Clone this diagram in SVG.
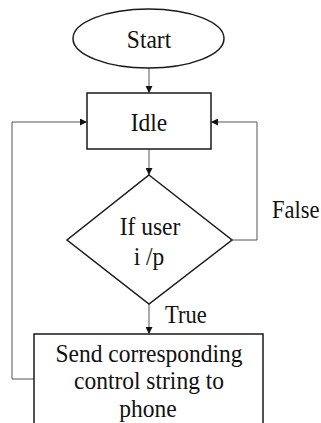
<svg xmlns="http://www.w3.org/2000/svg" width="321" height="423" viewBox="0 0 321 423">
<style>
.shape{fill:#fff;stroke:#1a1a1a;stroke-width:1.5}
.conn{fill:none;stroke:#555;stroke-width:1}
.t{font-size:23.5px;fill:#111;text-anchor:middle}
.lbl{font-size:22.5px;fill:#111}
</style>
<defs>
<marker id="ah" viewBox="0 0 10 10" refX="10" refY="5" markerWidth="7" markerHeight="7" markerUnits="userSpaceOnUse" orient="auto">
<path d="M0,0 L10,5 L0,10 z" fill="#111"/>
</marker>
</defs>
<rect width="321" height="423" fill="#fff"/>
<g font-family="'Liberation Serif', 'DejaVu Serif', serif">
<g id="connectors">
<line class="conn" x1="149" y1="68" x2="149" y2="93" marker-end="url(#ah)"/>
<line class="conn" x1="149" y1="149" x2="149" y2="175" marker-end="url(#ah)"/>
<line class="conn" x1="149" y1="304" x2="149" y2="334" marker-end="url(#ah)"/>
<polyline class="conn" points="232,240 257,240 257,122 211,122" marker-end="url(#ah)"/>
<polyline class="conn" points="34,379 12,379 12,122 87,122" marker-end="url(#ah)"/>
<text class="lbl" transform="translate(165,323) scale(1,1.1)">True</text>
<text class="lbl" transform="translate(272,218) scale(1,1.1)">False</text>
</g>
<g id="start">
<ellipse class="shape" cx="148.5" cy="38.5" rx="75.5" ry="29.5"/>
<text class="t" transform="translate(149,48) scale(1,1.1)">Start</text>
</g>
<g id="idle">
<rect class="shape" x="87" y="93" width="124" height="56"/>
<text class="t" transform="translate(149,131) scale(1,1.1)">Idle</text>
</g>
<g id="decision">
<polygon class="shape" points="149,175 232,240 149,304 67,240"/>
<text class="t" transform="translate(150,235) scale(1,1.1)">If user</text>
<text class="t" transform="translate(149,265) scale(1,1.1)">i /p</text>
</g>
<g id="send">
<rect class="shape" x="34" y="334" width="229" height="100"/>
<text class="t" transform="translate(149,362) scale(1,1.1)">Send corresponding</text>
<text class="t" transform="translate(149,389) scale(1,1.1)">control string to</text>
<text class="t" transform="translate(148,417) scale(1,1.1)">phone</text>
</g>
</g>
</svg>
